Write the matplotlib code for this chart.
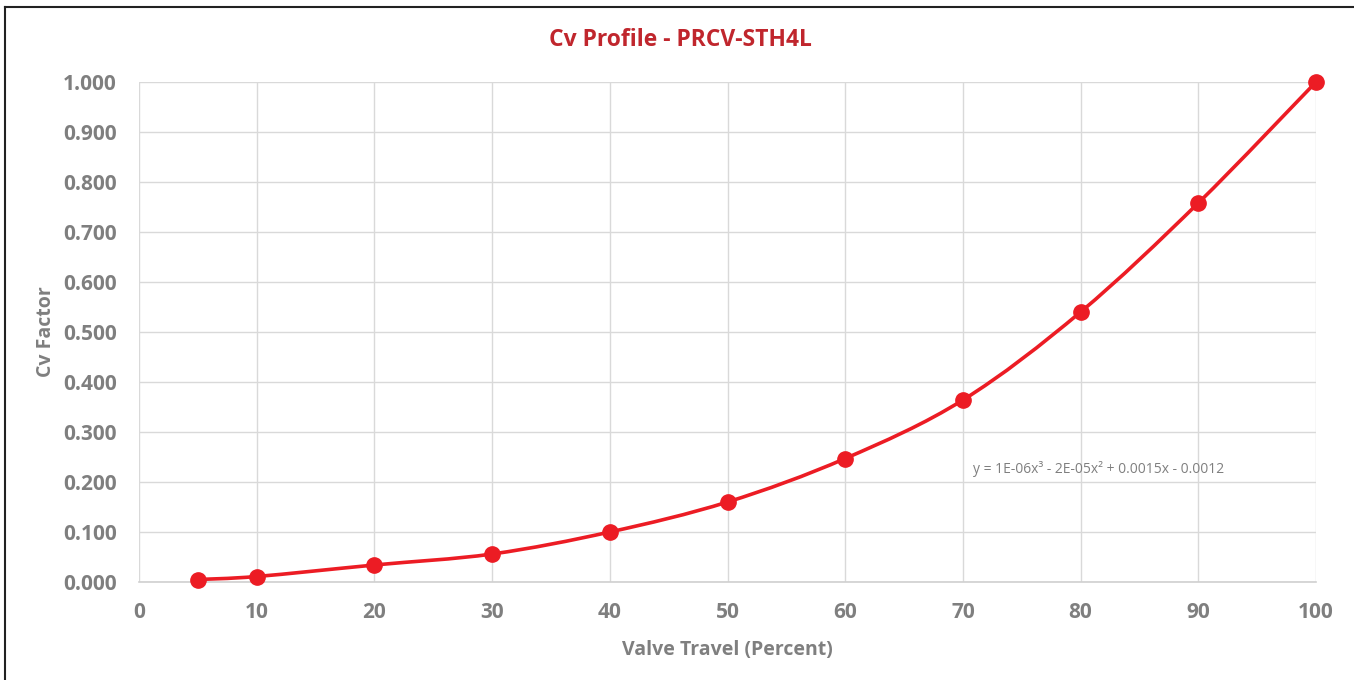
import matplotlib
matplotlib.use('Agg')
import matplotlib.pyplot as plt
from matplotlib.path import Path
from matplotlib.patches import PathPatch
from matplotlib.lines import Line2D
from matplotlib.ticker import MultipleLocator, FormatStrFormatter

plt.rcParams['font.family'] = ['Open Sans', 'DejaVu Sans']

travel = [5, 10, 20, 30, 40, 50, 60, 70, 80, 90, 100]
cv_factor = [0.005, 0.011, 0.034, 0.056, 0.100, 0.160, 0.247, 0.364, 0.540, 0.758, 1.000]

title = 'Cv Profile - PRCV-STH4L'
x_label = 'Valve Travel (Percent)'
y_label = 'Cv Factor'
trend_text = 'y = 1E-06x³ - 2E-05x² + 0.0015x - 0.0012'

red = '#EC1C24'
grey = '#7F7F7F'


def smooth_path(xs, ys):
    # Excel-style smoothed line: cubic bezier segments, catmull-rom handles
    pts = list(zip(xs, ys))
    verts = [pts[0]]
    codes = [Path.MOVETO]
    n = len(pts)
    for i in range(n - 1):
        p0 = pts[i - 1] if i > 0 else pts[i]
        p1 = pts[i]
        p2 = pts[i + 1]
        p3 = pts[i + 2] if i + 2 < n else pts[i + 1]
        c1 = (p1[0] + (p2[0] - p0[0]) / 6, p1[1] + (p2[1] - p0[1]) / 6)
        c2 = (p2[0] - (p3[0] - p1[0]) / 6, p2[1] - (p3[1] - p1[1]) / 6)
        verts += [c1, c2, p2]
        codes += [Path.CURVE4] * 3
    return Path(verts, codes)


fig = plt.figure(figsize=(13.54, 6.8), dpi=100)
ax = fig.add_axes([139 / 1354, 1 - 582 / 680, (1316 - 139) / 1354, (582 - 82) / 680])

ax.add_patch(PathPatch(smooth_path(travel, cv_factor), facecolor='none',
                       edgecolor=red, linewidth=2.6, zorder=3))
ax.plot(travel, cv_factor, linestyle='none', marker='o', markersize=11,
        color=red, zorder=4, clip_on=False)

ax.set_xlim(0, 100)
ax.set_ylim(0, 1)
ax.xaxis.set_major_locator(MultipleLocator(10))
ax.yaxis.set_major_locator(MultipleLocator(0.1))
ax.yaxis.set_major_formatter(FormatStrFormatter('%.3f'))
ax.grid(True, color='#D9D9D9', linewidth=1.0)
ax.set_axisbelow(True)
for side in ['top', 'right', 'left']:
    ax.spines[side].set_visible(False)
ax.spines['bottom'].set_color('#D0D0D0')
ax.spines['bottom'].set_linewidth(1.2)
ax.tick_params(axis='x', length=0, labelsize=15, labelcolor=grey, pad=14.5)
ax.tick_params(axis='y', length=0, labelsize=15, labelcolor=grey, pad=16)
for lab in ax.get_xticklabels() + ax.get_yticklabels():
    lab.set_fontweight('bold')

ax.set_xlabel(x_label, fontsize=14, fontweight='bold', color=grey, labelpad=12)
ax.set_ylabel(y_label, fontsize=14, fontweight='bold', color=grey, labelpad=5)
fig.text(680 / 1354, 1 - 40 / 680, title, ha='center', va='center',
         fontsize=16.5, fontweight='bold', color='#C0262D')
ax.text(70.9, 0.226, trend_text, fontsize=10, color=grey, va='center', ha='left')

# outer chart border (only top/left edges visible in the crop)
fig.add_artist(Line2D([5 / 1354, 5 / 1354], [0, 1 - 7 / 680], transform=fig.transFigure,
                      color='#222222', linewidth=1.5))
fig.add_artist(Line2D([5 / 1354, 1], [1 - 7 / 680, 1 - 7 / 680], transform=fig.transFigure,
                      color='#222222', linewidth=1.5))

fig.savefig('out.png', dpi=100)
